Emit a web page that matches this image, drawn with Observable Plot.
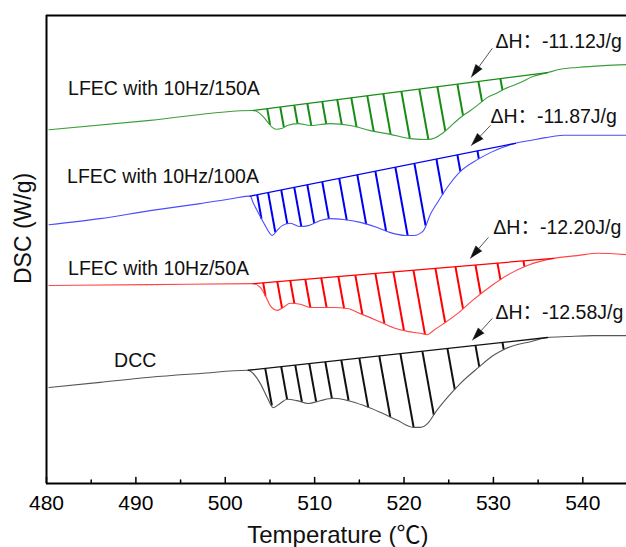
<!DOCTYPE html>
<html><head><meta charset="utf-8">
<script src="https://cdn.jsdelivr.net/npm/d3@7"></script>
<script src="https://cdn.jsdelivr.net/npm/@observablehq/plot@0.6"></script>
<style>body{margin:0;background:#fff;}</style>
</head><body><div id="chart"></div>
<script>
// ---- data ----
const seriesNames = ["LFEC with 10Hz/150A", "LFEC with 10Hz/100A", "LFEC with 10Hz/50A", "DCC"];
const enthalpy = ["-11.12", "-11.87", "-12.20", "-12.58"];
const xTicks = [480, 490, 500, 510, 520, 530, 540];
const xMinorTicks = [485, 495, 505, 515, 525, 535];
const xTitle = "Temperature (℃)";
const yTitle = "DSC (W/g)";

// DSC curves: [temperature °C, DSC (arbitrary, W/g offset)]
const curve150 = [[480.28,7.56],[491.59,7.76],[503.12,7.97],[504.24,7.84],[504.80,7.71],[505.25,7.61],[505.70,7.57],[506.37,7.59],[506.94,7.65],[508.16,7.69],[509.51,7.65],[510.63,7.67],[511.75,7.69],[513.99,7.65],[516.23,7.54],[518.47,7.46],[520.71,7.37],[522.62,7.35],[523.51,7.39],[524.41,7.50],[525.53,7.69],[526.31,7.82],[527.43,7.97],[528.33,8.10],[529.34,8.25],[530.23,8.33],[531.13,8.42],[533.03,8.57],[534.48,8.70],[536.05,8.78],[537.51,8.85],[539.41,8.89],[542.32,8.93],[544.90,8.95]];
const curve100 = [[480.28,5.53],[485.99,5.66],[491.59,5.83],[497.19,5.98],[500.88,6.09],[502.79,6.14],[503.12,6.00],[503.68,5.79],[504.47,5.51],[505.25,5.30],[505.81,5.41],[506.37,5.51],[507.27,5.56],[508.39,5.49],[509.29,5.51],[510.63,5.62],[511.75,5.66],[513.20,5.64],[515.11,5.58],[517.01,5.47],[518.47,5.36],[520.15,5.30],[521.05,5.30],[522.16,5.40],[522.94,5.75],[523.73,6.00],[524.85,6.33],[526.31,6.67],[528.21,6.92],[529.66,7.07],[531.00,7.18],[532.46,7.27],[534.14,7.33],[535.82,7.39],[537.84,7.44],[541.20,7.44],[544.90,7.44]];
const curve50 = [[480.28,4.23],[491.59,4.25],[503.12,4.27],[503.91,4.19],[504.47,4.02],[505.03,3.80],[505.81,3.70],[506.48,3.76],[507.27,3.85],[508.39,3.83],[509.51,3.76],[510.63,3.76],[512.09,3.76],[513.65,3.74],[515.11,3.63],[517.01,3.48],[518.81,3.33],[520.37,3.25],[521.84,3.21],[522.62,3.18],[523.29,3.27],[524.30,3.40],[525.98,3.63],[527.77,3.93],[529.67,4.21],[531.91,4.49],[533.81,4.66],[536.72,4.81],[539.41,4.87],[541.65,4.92],[544.90,4.89]];
const curveDCC = [[480.28,2.05],[485.99,2.16],[491.59,2.27],[497.19,2.35],[502.56,2.42],[503.12,2.35],[503.91,2.14],[504.69,1.84],[505.36,1.62],[506.14,1.71],[506.93,1.80],[508.05,1.77],[509.28,1.71],[510.63,1.77],[512.09,1.82],[513.76,1.77],[515.44,1.67],[517.34,1.52],[519.25,1.35],[521.04,1.20],[521.83,1.20],[522.73,1.30],[523.51,1.52],[524.86,1.84],[526.31,2.14],[528.33,2.48],[530.01,2.74],[531.13,2.86],[532.70,2.97],[534.15,3.03],[536.05,3.12],[538.29,3.14],[541.20,3.16],[544.90,3.16]];

// integration baselines (onset -> end)
const base150 = [[503.12,7.97],[536.05,8.78]];
const base100 = [[502.79,6.14],[532.46,7.27]];
const base50 = [[503.12,4.27],[536.72,4.81]];
const baseDCC = [[502.56,2.42],[536.05,3.12]];

// temperatures where hatch lines leave the baseline
const hatch150 = [504.69,506.15,507.72,509.18,510.85,512.53,514.10,515.89,517.68,519.70,521.71,523.73,525.97,528.32,530.78];
const hatch100 = [503.57,504.80,506.26,507.72,509.18,510.85,512.75,514.77,516.79,519.03,521.16,523.62,525.97,528.21];
const hatch50 = [504.24,505.82,507.27,508.95,510.74,512.65,514.55,516.79,518.81,521.05,523.51,525.75,527.99,530.45,533.36];
const hatchDCC = [504.47,506.26,507.83,509.40,511.19,512.98,515.00,517.23,519.59,522.05,524.85,527.99,531.01];

// annotation anchors (data coordinates)
const nameAt = [[482.41,8.43],[482.30,6.55],[482.41,4.58],[487.56,2.62]];
const dhAt = [[530.22,9.44],[529.66,7.84],[529.99,5.47],[530.22,3.65]];
const arrowFrom = [[529.88,9.30],[529.66,7.65],[529.44,5.26],[529.88,3.53]];
const arrowTo = [[527.53,8.68],[527.53,7.22],[527.42,4.81],[527.65,3.06]];
const xTitleAt = [512.6, -1.1];
const yTitleAt = [477.45, 5.45];

// ---- styles ----
const curveColors = ["#3a9e3a", "#4b4bff", "#ff4545", "#555555"];
const hatchColors = ["#168c16", "#0000f0", "#ff0000", "#111111"];
const FONT = "'Liberation Sans', Arial, 'Noto Sans CJK SC', sans-serif";

const W = 626, H = 547, ML = 46, MR = -1, MT = 15, MB = 64;
const xDomain = [480, 545], yDomain = [0, 10];
const sx = d3.scaleLinear(xDomain, [ML, W - MR]);
const sy = d3.scaleLinear(yDomain, [H - MB, MT]);

const curves = [curve150, curve100, curve50, curveDCC];
const bases = [base150, base100, base50, baseDCC];
const hatches = [hatch150, hatch100, hatch50, hatchDCC];

function interp(pts, t) {
  const i = d3.bisector(d => d[0]).right(pts, t);
  if (i <= 0) return pts[0][1];
  if (i >= pts.length) return pts[pts.length - 1][1];
  const [x0, y0] = pts[i - 1], [x1, y1] = pts[i];
  return y0 + (y1 - y0) * (t - x0) / (x1 - x0);
}

const curveRows = [], baseRows = [], hatchRows = [];
const slantPx = 0.18; // dx/dy of hatch lines in pixels
curves.forEach((c, s) => {
  c.forEach(([T, v]) => curveRows.push({s, T, v}));
  bases[s].forEach(([T, v]) => baseRows.push({s, T, v}));
  hatches[s].forEach(t => {
    const yTop = interp(bases[s], t);
    const pyTop = sy(yTop), pxTop = sx(t);
    let xb = t;
    for (let k = 0; k < 8; k++) {
      const pyB = sy(interp(c, xb));
      xb = sx.invert(pxTop + slantPx * (pyB - pyTop));
    }
    hatchRows.push({s, x1: t, y1: yTop, x2: xb, y2: interp(c, xb)});
  });
});

const shaftRows = [], headRows = [];
arrowFrom.forEach((a, i) => {
  const b = arrowTo[i];
  const Sx = sx(a[0]), Sy = sy(a[1]), Px = sx(b[0]), Py = sy(b[1]);
  const len = Math.hypot(Px - Sx, Py - Sy), ux = (Px - Sx) / len, uy = (Py - Sy) / len;
  const L = 13, w = 4;
  const Bx = Px - ux * L, By = Py - uy * L;
  shaftRows.push({x1: a[0], y1: a[1], x2: sx.invert(Bx), y2: sy.invert(By)});
  [[Px, Py], [Bx - uy * w, By + ux * w], [Bx + uy * w, By - ux * w]].forEach(([qx, qy]) =>
    headRows.push({i, T: sx.invert(qx), v: sy.invert(qy)}));
});

const tickShape = {draw(ctx, l) { ctx.moveTo(0, 0); ctx.lineTo(0, -l); }};

const plot = Plot.plot({
  width: W, height: H,
  marginLeft: ML, marginRight: MR, marginTop: MT, marginBottom: MB,
  x: {domain: xDomain},
  y: {domain: yDomain, axis: null},
  style: {fontFamily: FONT, background: "#fff", color: "#000", overflow: "visible"},
  marks: [
    Plot.axisX({ticks: xTicks, tickSize: 0, tickPadding: 12, fontSize: 21, tickFormat: d => String(d), label: null, fill: "#000"}),
    Plot.vector(xTicks, {x: d => d, frameAnchor: "bottom", length: 6, anchor: "start", shape: tickShape, stroke: "#000", strokeWidth: 1.5}),
    Plot.vector(xMinorTicks, {x: d => d, frameAnchor: "bottom", length: 3.5, anchor: "start", shape: tickShape, stroke: "#000", strokeWidth: 1.5}),
    Plot.link(hatchRows, {x1: "x1", y1: "y1", x2: "x2", y2: "y2", stroke: d => hatchColors[d.s], strokeWidth: 2}),
    Plot.line(curveRows, {x: "T", y: "v", z: "s", stroke: d => curveColors[d.s], strokeWidth: 1.1, curve: "monotone-x"}),
    Plot.line(baseRows, {x: "T", y: "v", z: "s", stroke: d => hatchColors[d.s], strokeWidth: 1.3}),
    Plot.link(shaftRows, {x1: "x1", y1: "y1", x2: "x2", y2: "y2", stroke: "#555", strokeWidth: 1}),
    Plot.line(headRows, {x: "T", y: "v", z: "i", fill: "#111", stroke: "#111", strokeWidth: 0.5}),
    Plot.text(seriesNames, {x: (d, i) => nameAt[i][0], y: (d, i) => nameAt[i][1], text: d => d, textAnchor: "start", fontSize: 19.5, fill: "#111"}),
    Plot.text(enthalpy, {x: (d, i) => dhAt[i][0], y: (d, i) => dhAt[i][1], text: d => "ΔH：" + d + "J/g", textAnchor: "start", fontSize: 19.5, fill: "#111"}),
    Plot.ruleY(yDomain, {stroke: "#000", strokeWidth: 2}),
    Plot.ruleX([xDomain[0]], {stroke: "#000", strokeWidth: 2}),
    Plot.text([xTitle], {x: xTitleAt[0], y: xTitleAt[1], text: d => d, fontSize: 24, fill: "#111"}),
    Plot.text([yTitle], {x: yTitleAt[0], y: yTitleAt[1], text: d => d, rotate: -90, fontSize: 23, fill: "#111"})
  ]
});
document.getElementById("chart").appendChild(plot);
</script>
</body></html>
